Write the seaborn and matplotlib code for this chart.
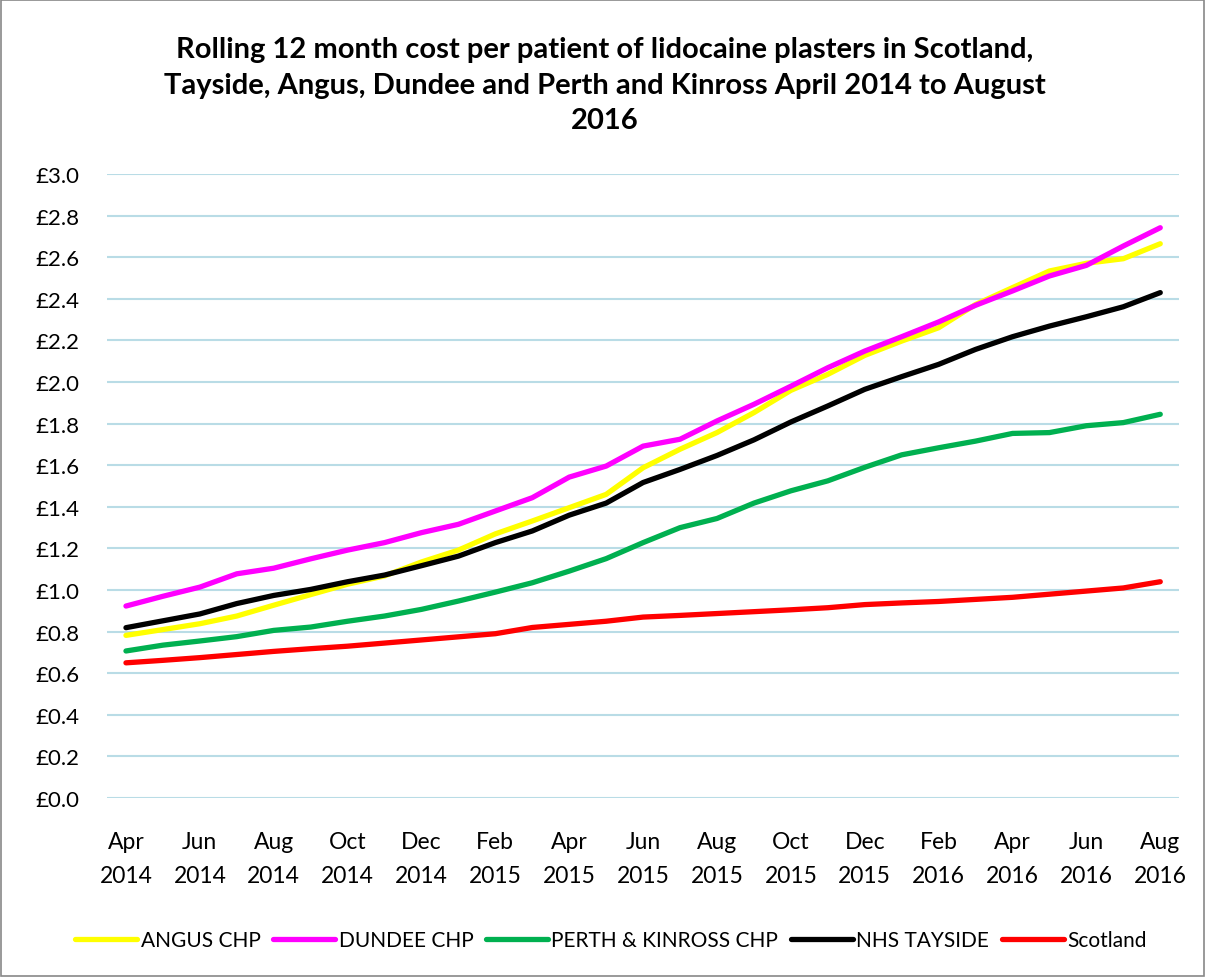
import numpy as np
import pandas as pd
import matplotlib
matplotlib.use("Agg")
import matplotlib.pyplot as plt
import seaborn as sns

months = ["Apr 2014", "May 2014", "Jun 2014", "Jul 2014", "Aug 2014", "Sep 2014", "Oct 2014",
          "Nov 2014", "Dec 2014", "Jan 2015", "Feb 2015", "Mar 2015", "Apr 2015", "May 2015",
          "Jun 2015", "Jul 2015", "Aug 2015", "Sep 2015", "Oct 2015", "Nov 2015", "Dec 2015",
          "Jan 2016", "Feb 2016", "Mar 2016", "Apr 2016", "May 2016", "Jun 2016", "Jul 2016",
          "Aug 2016"]

angus = [0.782, 0.81, 0.838, 0.875, 0.927, 0.978, 1.028, 1.068, 1.135, 1.192, 1.27, 1.332,
         1.396, 1.46, 1.588, 1.677, 1.757, 1.853, 1.96, 2.037, 2.128, 2.197, 2.261, 2.373,
         2.454, 2.534, 2.571, 2.593, 2.665]
dundee = [0.923, 0.97, 1.014, 1.078, 1.105, 1.15, 1.192, 1.228, 1.276, 1.316, 1.38, 1.444,
          1.543, 1.596, 1.692, 1.725, 1.813, 1.893, 1.98, 2.069, 2.149, 2.218, 2.289, 2.369,
          2.438, 2.51, 2.561, 2.654, 2.742]
perth = [0.707, 0.735, 0.755, 0.776, 0.806, 0.822, 0.85, 0.875, 0.907, 0.947, 0.99, 1.035,
         1.091, 1.151, 1.228, 1.3, 1.344, 1.418, 1.477, 1.525, 1.59, 1.65, 1.684, 1.716,
         1.753, 1.757, 1.79, 1.805, 1.845]
tayside = [0.819, 0.852, 0.885, 0.935, 0.974, 1.003, 1.04, 1.072, 1.117, 1.163, 1.228, 1.284,
           1.36, 1.418, 1.517, 1.58, 1.647, 1.722, 1.808, 1.885, 1.965, 2.026, 2.085, 2.157,
           2.218, 2.269, 2.314, 2.362, 2.43]
scotland = [0.65, 0.662, 0.675, 0.69, 0.705, 0.718, 0.73, 0.745, 0.76, 0.775, 0.79, 0.82,
            0.835, 0.85, 0.87, 0.878, 0.887, 0.896, 0.905, 0.915, 0.93, 0.938, 0.945, 0.955,
            0.965, 0.98, 0.995, 1.01, 1.04]

series_names = ["ANGUS CHP", "DUNDEE CHP", "PERTH & KINROSS CHP", "NHS TAYSIDE", "Scotland"]
series_values = [angus, dundee, perth, tayside, scotland]
colors = ["#FFFF00", "#FF00FF", "#00B050", "#000000", "#FF0000"]

rows = []
for name, vals in zip(series_names, series_values):
    for i, v in enumerate(vals):
        rows.append({"idx": i, "value": v, "series": name})
df = pd.DataFrame(rows)

sns.set_theme(style="white")
plt.rcParams['font.family'] = ['Lato', 'DejaVu Sans']
plt.rcParams['text.color'] = 'black'
plt.rcParams['xtick.color'] = 'black'
plt.rcParams['ytick.color'] = 'black'

fig = plt.figure(figsize=(12.05, 9.78), dpi=100)
ax = fig.add_axes([0.0892, 0.183, 0.889, 0.638])

sns.lineplot(data=df, x="idx", y="value", hue="series", palette=colors,
             hue_order=series_names, linewidth=3.8, ax=ax, legend=True,
             solid_capstyle="round")

ax.set_xlim(-0.5, len(months) - 0.5)
ax.set_ylim(0, 3.0)
yt = np.arange(0, 3.01, 0.2)
ax.set_yticks(yt)
ax.set_yticklabels([f"£{v:.1f}" for v in yt], fontsize=16)
xt = list(range(0, len(months), 2))
ax.set_xticks(xt)
ax.set_xticklabels([months[i].replace(" ", "\n") for i in xt], fontsize=16.5, linespacing=1.75)
ax.tick_params(axis="x", pad=24, length=0)
ax.tick_params(axis="y", pad=52, length=0)
for lab in ax.get_yticklabels():
    lab.set_horizontalalignment("left")
ax.set_xlabel("")
ax.set_ylabel("")
ax.grid(axis="y", color="#B9DCE6", linewidth=1.5)
ax.set_axisbelow(True)
for s in ax.spines.values():
    s.set_visible(False)

fig.text(0.502, 0.962, "Rolling 12 month cost per patient of lidocaine plasters in Scotland,\n"
         "Tayside, Angus, Dundee and Perth and Kinross April 2014 to August\n2016",
         ha="center", va="top", fontsize=21, fontweight="bold", linespacing=1.45)

handles, labels = ax.get_legend_handles_labels()
ax.legend_.remove()
fig.legend(handles, labels, loc="center", bbox_to_anchor=(0.507, 0.038), ncol=5,
           frameon=False, fontsize=15, handlelength=3.0, handletextpad=0.15,
           columnspacing=0.6)

fig.patches.append(plt.Rectangle((0.001, 0.001), 0.998, 0.998, transform=fig.transFigure,
                                 fill=False, edgecolor="#888888", linewidth=1.2))

fig.savefig("out.png", dpi=100)
